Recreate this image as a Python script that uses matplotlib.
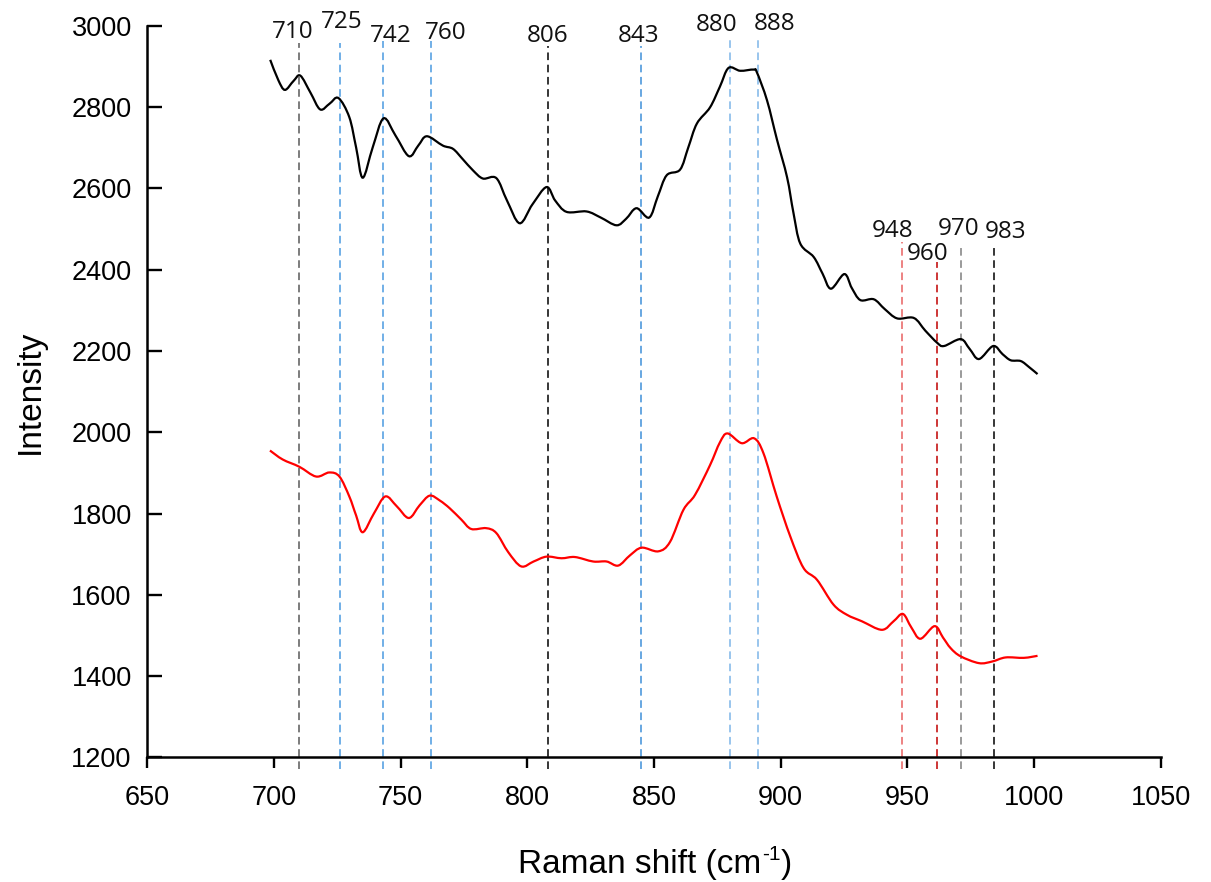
import matplotlib
matplotlib.use("Agg")
import matplotlib.pyplot as plt
from matplotlib.path import Path
from matplotlib.patches import PathPatch
from matplotlib.transforms import IdentityTransform

plt.rcParams['font.family'] = ['Liberation Sans', 'DejaVu Sans']

# Black spectrum
black_x = [698.6, 701.8, 704.4, 707.8, 710.5, 714.5, 718.3, 722, 725.5, 729.8, 732.5, 735.1,
           739, 743.3, 748, 753.3, 757, 760.4, 766.7, 770.7, 774.5, 778.6, 782.5, 787.8,
           792, 797, 802, 807.6, 811, 815.5, 823.4, 829, 835.2, 839, 843.1, 848.1, 851.5,
           855, 860.3, 863.5, 866.9, 872.1, 876, 879.4, 884, 889.3, 890.6, 894.6, 898.5,
           902.5, 905, 907.7, 913, 916.5, 919.8, 925.1, 928, 931.4, 936.7, 941, 945.9,
           952.5, 957, 961.7, 964.4, 971, 974.5, 978.2, 983.8, 987.5, 990.7, 994.7, 998, 1001.3]
black_y = [2916, 2866, 2842, 2864, 2877, 2835, 2794, 2808, 2822, 2775, 2700, 2626,
           2700, 2772, 2730, 2679, 2705, 2728, 2705, 2697, 2672, 2644, 2624, 2625,
           2570, 2514, 2560, 2603, 2570, 2542, 2543, 2528, 2509, 2525, 2551, 2528, 2580,
           2632, 2646, 2700, 2759, 2799, 2850, 2896, 2889, 2892, 2885, 2816, 2720,
           2627, 2540, 2464, 2431, 2390, 2353, 2389, 2355, 2325, 2327, 2303, 2280,
           2281, 2250, 2220, 2212, 2229, 2205, 2180, 2212, 2192, 2177, 2175, 2160, 2143]

# Red spectrum
red_x = [698.5, 703.5, 710.1, 716.7, 721.9, 725.9, 729.8, 732.5, 735.1, 739.5, 744, 748.5,
         753.3, 757.5, 761.5, 765.5, 769.4, 774, 777.9, 783.8, 787.8, 792.5, 797.6, 802.5,
         807.6, 813.5, 818.8, 826, 831.3, 835.9, 840.5, 845.1, 851.7, 856.3, 861.6, 866.2,
         872.1, 876, 879, 884.6, 889.5, 893.2, 898.4, 903.8, 909, 914.3, 920.8, 926.1,
         932, 939.9, 944.5, 948.2, 951.5, 955.1, 960.7, 964, 967, 970.9, 978.2, 983.4,
         988.7, 995.9, 1001.3]
red_y = [1955, 1933, 1915, 1891, 1901, 1891, 1842, 1795, 1754, 1800, 1842, 1818,
         1789, 1820, 1844, 1832, 1813, 1785, 1762, 1764, 1752, 1705, 1670, 1682,
         1694, 1690, 1693, 1682, 1682, 1672, 1697, 1716, 1707, 1730, 1809, 1846,
         1919, 1975, 1997, 1973, 1985, 1948, 1842, 1743, 1666, 1637, 1576, 1551,
         1535, 1514, 1535, 1553, 1520, 1492, 1523, 1495, 1469, 1449, 1432, 1436,
         1446, 1445, 1450]

# Peak marker lines
peak_pos = [710, 726, 743, 762, 808, 845, 880, 891, 948, 961.5, 971, 984]
peak_top = [2958, 2958, 2963, 2963, 2951, 2951, 2968, 2968, 2469, 2418, 2455, 2455]
peak_colors = ['#595959', '#4A9AE0', '#4A9AE0', '#4A9AE0', '#000000', '#3E8FD8',
               '#7DB5E8', '#7DB5E8', '#E86060', '#C00000', '#7F7F7F', '#000000']
peak_labels = ['710', '725', '742', '760', '806', '843', '880', '888', '948', '960', '970', '983']
label_x = [707.4, 726.7, 746.1, 768, 807.9, 844.1, 874.6, 897.6, 944, 958, 970.3, 988.6]
label_y = [2969, 2994, 2961, 2967, 2961, 2961, 2988, 2989, 2481, 2424, 2485, 2477]

x_ticks = [650, 700, 750, 800, 850, 900, 950, 1000, 1050]
y_ticks = [1200, 1400, 1600, 1800, 2000, 2200, 2400, 2600, 2800, 3000]


def smooth_path(xs, ys):
    """Smoothed line through the points (like a spreadsheet 'smoothed line')."""
    pts = list(zip(xs, ys))
    verts = [pts[0]]
    codes = [Path.MOVETO]
    n = len(pts)
    for i in range(n - 1):
        p0 = pts[i - 1] if i > 0 else pts[i]
        p1 = pts[i]
        p2 = pts[i + 1]
        p3 = pts[i + 2] if i + 2 < n else pts[i + 1]
        c1 = (p1[0] + (p2[0] - p0[0]) / 6.0, p1[1] + (p2[1] - p0[1]) / 6.0)
        c2 = (p2[0] - (p3[0] - p1[0]) / 6.0, p2[1] - (p3[1] - p1[1]) / 6.0)
        verts += [c1, c2, p2]
        codes += [Path.CURVE4] * 3
    return Path(verts, codes)


fig = plt.figure(figsize=(12.11, 8.82), dpi=100)
ax = fig.add_axes([0.1214, 0.1412, 0.9587 - 0.1214, 0.9709 - 0.1412])

for xp, yt, c in zip(peak_pos, peak_top, peak_colors):
    ax.plot([xp, xp], [1172, yt], color=c, lw=1.1, ls=(0, (5, 3)), clip_on=False, zorder=1)

for lab, lx, ly in zip(peak_labels, label_x, label_y):
    ax.text(lx, ly, lab, ha='center', va='baseline', fontsize=17.5,
            family=['Open Sans', 'DejaVu Sans'], color='#111111', clip_on=False)

ax.add_patch(PathPatch(smooth_path(black_x, black_y), fill=False, edgecolor='black',
                       lw=1.6, zorder=3, transform=ax.transData))
ax.add_patch(PathPatch(smooth_path(red_x, red_y), fill=False, edgecolor='#FF0000',
                       lw=1.6, zorder=3, transform=ax.transData))

ax.set_xlim(650, 1050)
ax.set_ylim(1200, 3000)
ax.set_xticks(x_ticks)
ax.set_yticks(y_ticks)
ax.spines['top'].set_visible(False)
ax.spines['right'].set_visible(False)
for s in ['left', 'bottom']:
    ax.spines[s].set_linewidth(1.8)
ax.tick_params(axis='y', direction='in', length=11, width=1.7, labelsize=19.5, pad=11)
ax.tick_params(axis='x', direction='out', length=8, width=1.7, labelsize=19.5, pad=12)

ax.set_ylabel('Intensity', fontsize=24, labelpad=18)

# x label with a plain hyphen superscript
renderer = fig.canvas.get_renderer()
t1 = fig.text(0, 0, 'Raman shift (cm', fontsize=24, va='baseline', transform=IdentityTransform())
t2 = fig.text(0, 0, '-1', fontsize=15, va='baseline', transform=IdentityTransform())
t3 = fig.text(0, 0, ')', fontsize=24, va='baseline', transform=IdentityTransform())
w1 = t1.get_window_extent(renderer).width
w2 = t2.get_window_extent(renderer).width
w3 = t3.get_window_extent(renderer).width
total = w1 + w2 + w3
x0 = 654 - total / 2.0
base = 882 - 873.5
t1.set_position((x0, base))
t2.set_position((x0 + w1 + 1, base + 13))
t3.set_position((x0 + w1 + w2 + 2, base))

fig.savefig('out.png', dpi=100)
